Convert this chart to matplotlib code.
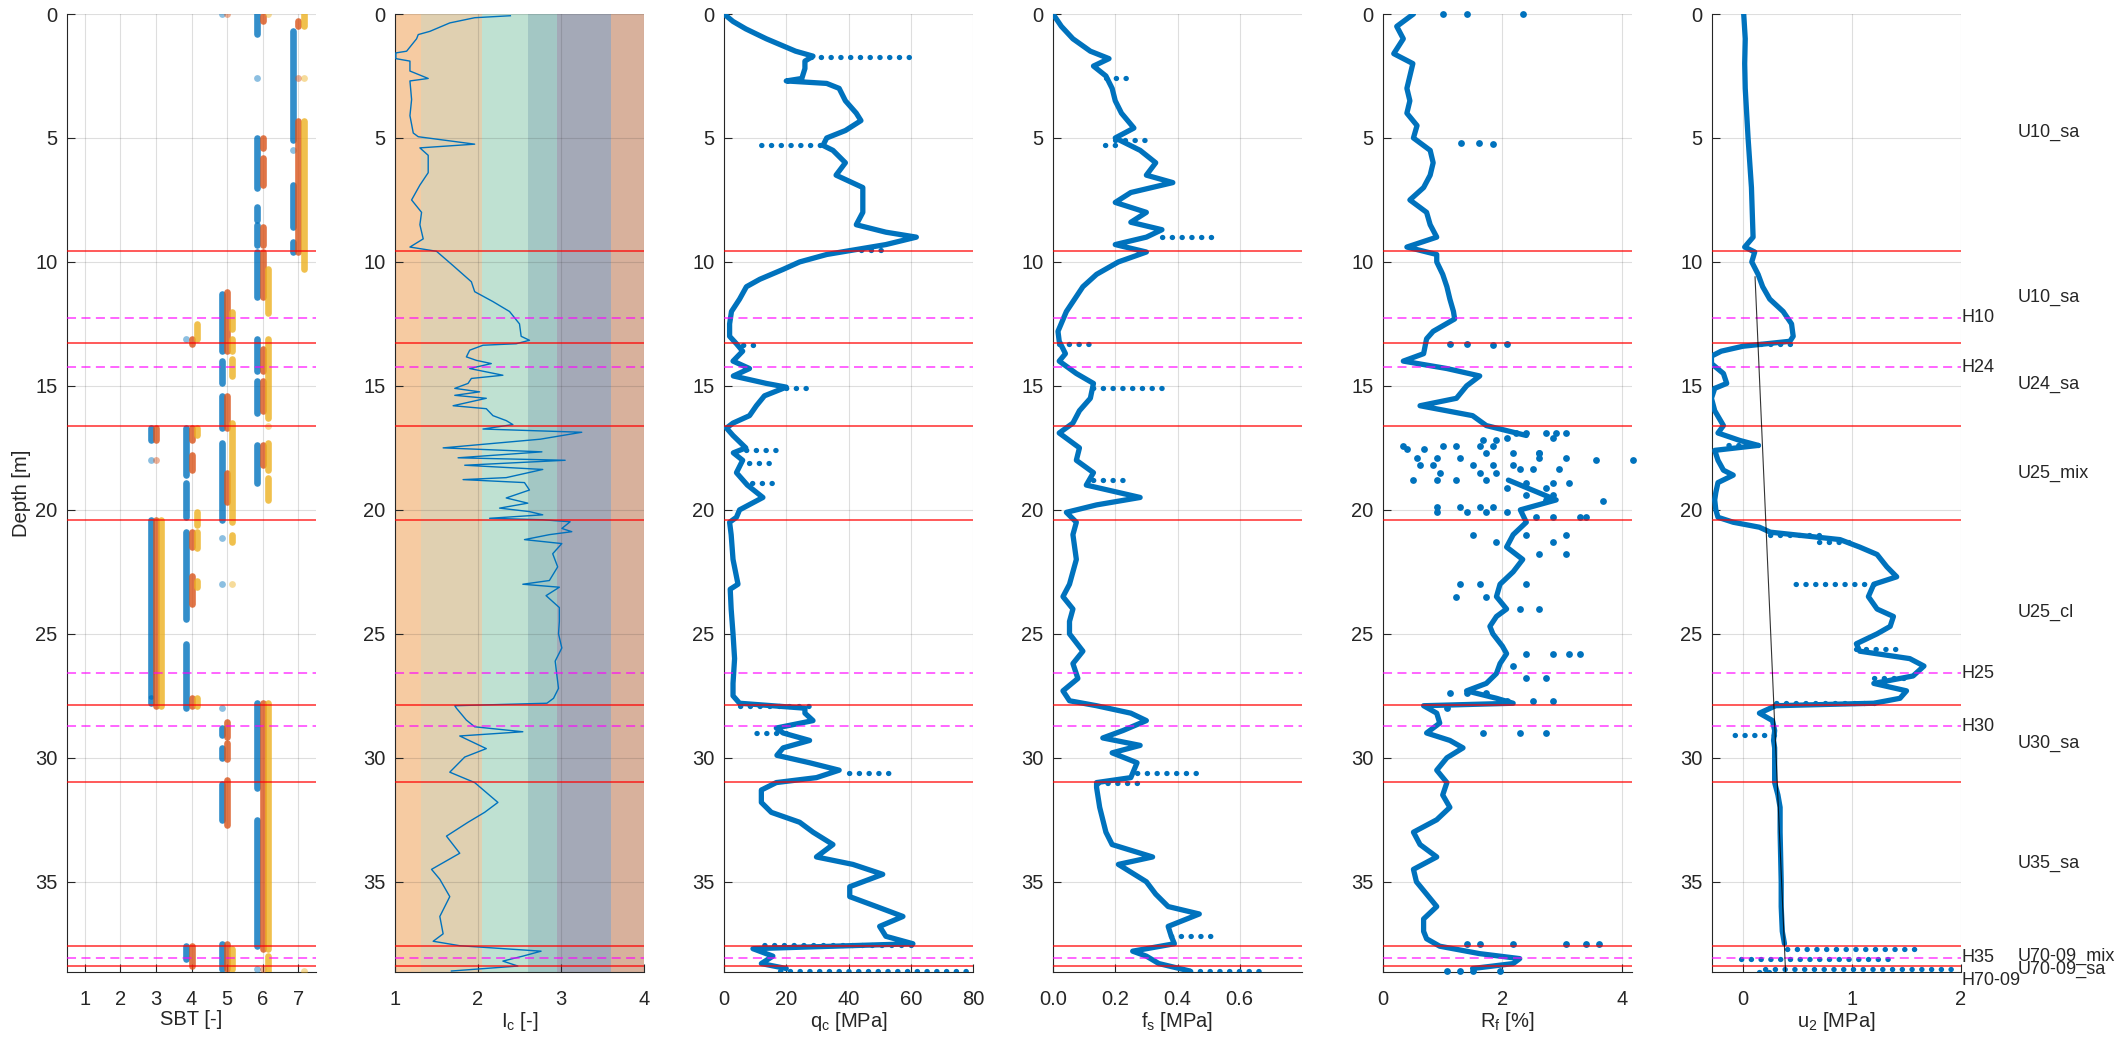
import numpy as np
import matplotlib.pyplot as plt

plt.rcParams['font.family'] = ['Liberation Sans', 'DejaVu Sans']
plt.rcParams['mathtext.default'] = 'regular'

# ---- layering (depth in m) ----
unit_bounds = [0, 9.57, 13.27, 16.62, 20.4, 27.87, 30.97, 37.59, 38.4, 38.7]
unit_names = ['U10_sa', 'U10_sa', 'U24_sa', 'U25_mix', 'U25_cl', 'U30_sa',
              'U35_sa', 'U70-09_mix', 'U70-09_sa']
horizon_names = ['H10', 'H24', 'H25', 'H30', 'H35', 'H70-09']
horizon_depths = [12.25, 14.24, 26.6, 28.72, 38.07, 39.0]

# ---- SBT (value, top, bottom) for three classification variants ----
sbt_blue = [(5, 0.0, 0.0), (6, 0.0, 0.8), (7, 0.7, 5.1), (6, 2.6, 2.6), (6, 5.0, 7.0),
            (7, 5.5, 5.5), (7, 6.9, 8.6), (6, 7.8, 8.3), (6, 8.5, 9.3), (7, 9.2, 9.6),
            (6, 9.6, 11.4), (5, 11.3, 13.6), (4, 13.1, 13.1), (6, 13.1, 14.4), (6, 14.8, 16.1),
            (5, 14.0, 14.9), (5, 15.4, 16.7), (5, 17.3, 20.4), (4, 16.7, 18.6), (4, 18.9, 20.3),
            (3, 16.7, 17.2), (3, 18.0, 18.0), (6, 17.4, 18.9), (3, 20.4, 27.5), (4, 20.9, 24.4),
            (4, 25.4, 28.0), (5, 21.15, 21.15), (5, 23.0, 23.0), (5, 28.0, 28.0), (3, 27.6, 27.8),
            (6, 27.8, 31.2), (6, 32.5, 37.6), (6, 38.5, 38.5), (5, 28.8, 29.1), (5, 29.6, 30.0),
            (5, 31.05, 32.5), (5, 37.5, 38.5), (4, 37.6, 38.1)]
sbt_orange = [(5, 0.0, 0.0), (6, 0.1, 0.3), (7, 0.3, 0.5), (7, 2.6, 2.6), (7, 4.3, 9.6),
              (6, 5.0, 5.4), (6, 5.8, 6.9), (6, 8.6, 9.3), (6, 9.6, 11.4), (5, 11.2, 13.6),
              (4, 13.1, 13.3), (6, 13.5, 14.4), (6, 14.8, 16.0), (5, 15.4, 16.7), (5, 18.5, 19.7),
              (3, 16.7, 17.2), (3, 18.0, 18.0), (4, 16.7, 17.2), (4, 17.8, 18.4), (6, 17.4, 18.2),
              (3, 20.4, 27.9), (4, 20.9, 21.5), (4, 22.65, 23.8), (4, 27.6, 27.9), (6, 27.8, 37.7),
              (5, 28.55, 29.15), (5, 29.4, 30.05), (5, 30.9, 32.7), (5, 37.5, 38.5), (4, 37.6, 38.4),
              (6, 38.5, 38.5)]
sbt_yellow = [(6, 0.0, 0.0), (7, 0.0, 0.5), (7, 2.6, 2.6), (7, 4.3, 10.3), (6, 10.3, 12.05),
              (5, 12.0, 12.7), (5, 13.1, 13.6), (4, 12.5, 13.1), (6, 13.1, 16.3), (6, 16.6, 16.6),
              (5, 13.9, 14.6), (5, 16.5, 20.5), (6, 17.3, 18.4), (6, 18.7, 19.6), (4, 16.7, 17.0),
              (4, 20.1, 20.6), (4, 20.9, 21.55), (4, 22.85, 23.1), (5, 21.0, 21.3), (5, 23.0, 23.0),
              (3, 20.4, 27.9), (4, 27.6, 27.9), (6, 27.8, 37.7), (6, 38.0, 38.6), (5, 37.7, 38.5),
              (7, 38.6, 38.6)]

# ---- Ic profile ----
ic_depth = [0.07, 0.15, 0.36, 0.7, 0.83, 1.0, 1.5, 1.57, 1.8, 1.9, 2.3, 2.6, 2.7, 3.45, 4.1, 4.8,
            4.95, 5.25, 5.4, 5.7, 6.4, 6.9, 7.5, 8.0, 8.5, 9.07, 9.4, 9.57, 10.15, 10.8, 11.2, 11.6,
            12.0, 12.5, 13.0, 13.16, 13.3, 13.36, 13.56, 13.83, 13.97, 14.1, 14.3, 14.57, 14.7,
            14.9, 15.1, 15.24, 15.38, 15.5, 15.8, 15.92, 16.2, 16.4, 16.56, 16.74, 16.87, 17.15,
            17.5, 17.66, 17.9, 18.0, 18.2, 18.37, 18.7, 18.78, 18.9, 19.2, 19.52, 19.73, 19.93,
            20.07, 20.2, 20.34, 20.4, 20.48, 20.75, 20.88, 21.0, 21.2, 21.36, 21.77, 22.3, 22.85,
            23.0, 23.12, 23.46, 23.94, 24.5, 25.0, 25.57, 26.1, 26.66, 27.2, 27.6, 27.8, 27.9,
            28.0, 28.48, 28.75, 28.95, 29.12, 29.63, 29.97, 30.58, 31.0, 31.8, 32.2, 32.6, 33.16,
            33.85, 34.5, 34.9, 35.6, 36.4, 37.1, 37.4, 37.58, 37.8, 38.0, 38.2, 38.4, 38.6]
ic_val = [2.39, 1.96, 1.66, 1.42, 1.28, 1.26, 1.14, 1.01, 1.01, 1.18, 1.18, 1.40, 1.18, 1.20, 1.18,
          1.22, 1.28, 1.96, 1.30, 1.40, 1.40, 1.30, 1.20, 1.32, 1.30, 1.34, 1.18, 1.50, 1.70, 1.92,
          1.96, 2.18, 2.38, 2.50, 2.52, 2.62, 2.46, 2.06, 1.90, 1.86, 1.98, 2.16, 1.90, 2.30, 1.92,
          1.88, 1.72, 2.02, 1.72, 2.10, 1.70, 2.10, 2.18, 2.34, 2.42, 2.06, 3.25, 2.75, 1.58, 2.77,
          1.76, 3.05, 1.84, 2.78, 2.34, 1.82, 2.56, 2.62, 2.34, 2.60, 2.26, 2.62, 2.78, 2.14, 2.78,
          3.11, 3.01, 3.13, 2.86, 2.56, 3.01, 2.90, 2.96, 2.86, 2.54, 2.98, 2.82, 2.98, 2.98, 2.97,
          3.01, 2.93, 2.95, 2.97, 2.91, 2.83, 1.72, 1.74, 1.86, 1.96, 2.54, 1.78, 2.10, 1.84, 1.66,
          1.96, 2.24, 2.08, 1.88, 1.62, 1.78, 1.44, 1.54, 1.66, 1.54, 1.58, 1.46, 1.78, 2.76, 2.54,
          2.30, 2.48, 1.68]
ic_zone_bounds = [1.0, 1.31, 2.05, 2.60, 2.95, 3.60, 4.0]
ic_zone_colors = ['#F6CBA2', '#E0D0B1', '#BFE1D2', '#A3C7C4', '#A4A9B7', '#D8B19C']

# ---- qc profile [MPa] ----
qc_depth = [0, 0.3, 0.6, 1.0, 1.5, 1.7, 1.9, 2.2, 2.6, 2.7, 2.8, 3.0, 3.5, 4.0, 4.3, 4.7, 5.0,
            5.3, 5.5, 6.0, 6.5, 7.0, 8.0, 8.5, 8.8, 9.0, 9.3, 9.5, 9.7, 10.0, 10.3, 10.7, 11.0,
            11.5, 12.0, 12.5, 13.0, 13.3, 13.6, 14.0, 14.3, 14.6, 14.9, 15.05, 15.4, 15.8, 16.2,
            16.5, 16.7, 17.0, 17.5, 17.7, 18.0, 18.5, 19.0, 19.5, 20.0, 20.3, 20.5, 21.0, 22.0,
            23.0, 23.2, 24.0, 25.0, 26.0, 27.0, 27.5, 27.8, 28.0, 28.2, 28.5, 28.8, 29.0, 29.3,
            29.6, 29.9, 30.2, 30.5, 30.8, 31.0, 31.3, 31.8, 32.2, 32.6, 33.0, 33.5, 34.0, 34.3,
            34.7, 35.2, 35.6, 36.0, 36.4, 36.8, 37.2, 37.5, 37.7, 38.0, 38.3, 38.5]
qc_val = [0, 2.9, 7.0, 13.6, 23.0, 28.6, 26.0, 26.0, 25.0, 20.0, 33.0, 37.0, 39.0, 42.5, 44.0,
          39.0, 33.0, 31.8, 35.0, 39.0, 36.0, 44.6, 44.6, 42.5, 52.0, 61.8, 52.0, 42.5, 33.0, 24.3,
          19.0, 11.5, 7.2, 5.0, 2.4, 1.8, 1.8, 4.0, 6.0, 2.9, 8.2, 3.0, 13.6, 20.0, 13.0, 10.4,
          8.2, 2.9, 0.8, 2.9, 7.0, 3.0, 6.0, 4.0, 7.5, 12.5, 5.0, 4.0, 1.8, 2.3, 2.9, 4.5, 2.0,
          2.3, 2.9, 3.4, 2.9, 2.9, 5.0, 26.0, 26.0, 28.6, 16.8, 19.0, 27.5, 19.0, 17.0, 27.5,
          37.0, 29.7, 16.8, 12.0, 12.0, 15.2, 24.3, 28.6, 35.0, 29.7, 41.4, 51.0, 40.4, 40.4, 49.0,
          57.5, 50.0, 52.0, 60.7, 9.3, 15.7, 12.0, 20.0]
qc_spk_depth = [1.75, 5.3, 9.5, 13.35, 15.1, 17.6, 18.1, 18.9, 27.9, 29.0, 30.6, 37.55, 38.6]
qc_spk_from = [28, 31, 44, 6, 20, 7, 8, 9, 5, 20, 40, 60, 18]
qc_spk_to = [60, 9, 53, 11, 28, 19, 17, 17, 29, 10, 53, 10, 80]

# ---- fs profile [MPa] ----
fs_depth = [0, 0.5, 1.0, 1.5, 1.8, 2.1, 2.5, 3.0, 3.5, 4.0, 4.6, 5.0, 5.5, 6.0, 6.5, 6.8, 7.2,
            7.6, 8.0, 8.4, 8.7, 9.0, 9.3, 9.6, 10.0, 10.5, 11.0, 12.0, 12.8, 13.2, 13.7, 14.0,
            14.5, 14.9, 15.5, 16.0, 16.5, 16.9, 17.5, 18.0, 18.5, 19.0, 19.5, 19.8, 20.1, 20.5,
            21.0, 22.0, 23.0, 23.5, 24.0, 24.5, 25.0, 25.7, 26.2, 26.8, 27.3, 27.7, 27.9, 28.2,
            28.5, 28.9, 29.2, 29.5, 29.8, 30.2, 30.8, 31.0, 31.2, 32.0, 32.5, 33.0, 33.5, 34.0,
            34.3, 35.0, 35.5, 36.0, 36.3, 36.8, 37.2, 37.5, 37.8, 38.0, 38.3, 38.6]
fs_val = [0, 0.027, 0.064, 0.12, 0.18, 0.13, 0.17, 0.19, 0.20, 0.22, 0.26, 0.20, 0.28, 0.33,
          0.30, 0.385, 0.25, 0.20, 0.30, 0.25, 0.35, 0.30, 0.20, 0.30, 0.21, 0.14, 0.096, 0.043,
          0.016, 0.02, 0.04, 0.02, 0.075, 0.13, 0.12, 0.085, 0.064, 0.02, 0.085, 0.075, 0.13,
          0.107, 0.28, 0.14, 0.043, 0.075, 0.064, 0.075, 0.053, 0.032, 0.064, 0.053, 0.053,
          0.096, 0.064, 0.08, 0.032, 0.053, 0.14, 0.25, 0.30, 0.225, 0.16, 0.28, 0.19, 0.27,
          0.25, 0.14, 0.14, 0.15, 0.16, 0.17, 0.19, 0.32, 0.21, 0.30, 0.33, 0.37, 0.47, 0.37,
          0.38, 0.39, 0.256, 0.30, 0.34, 0.44]
fs_spk_depth = [2.6, 5.1, 5.3, 9.0, 13.3, 15.1, 18.8, 30.6, 31.0, 37.2, 38.6]
fs_spk_from = [0.17, 0.20, 0.20, 0.35, 0.02, 0.13, 0.13, 0.27, 0.27, 0.38, 0.44]
fs_spk_to = [0.25, 0.30, 0.14, 0.51, 0.12, 0.35, 0.24, 0.46, 0.14, 0.53, 0.68]

# ---- Rf profile [%] ----
rf_depth = [0, 0.5, 1.0, 1.6, 2.0, 2.5, 3.0, 3.5, 4.0, 4.5, 5.0, 5.5, 6.0, 6.5, 7.0, 7.5, 8.0,
            8.5, 9.0, 9.4, 9.7, 10.0, 10.5, 11.0, 11.5, 12.0, 12.3, 12.8, 13.1, 13.7, 14.0, 14.3,
            14.6, 15.0, 15.5, 15.8, 16.2, 16.6, 17.0, np.nan, 18.8, 19.2, 19.6, 20.0, 20.5, 21.0,
            21.5, 22.0, 22.5, 23.0, 23.5, 24.0, 24.3, 24.7, 25.0, 25.5, 25.8, 26.2, 26.6, 27.0,
            27.3, 27.6, 27.8, 27.9, 28.2, 28.6, 29.0, 29.3, 29.6, 30.0, 30.5, 31.0, 31.5, 32.0,
            32.5, 33.0, 33.5, 34.0, 34.5, 35.0, 35.5, 36.0, 36.5, 37.0, 37.3, 37.6, 37.9, 38.1,
            38.3, 38.5]
rf_val = [0.51, 0.23, 0.34, 0.18, 0.5, 0.45, 0.4, 0.45, 0.4, 0.57, 0.51, 0.79, 0.84, 0.79, 0.68,
          0.45, 0.73, 0.79, 0.9, 0.4, 0.9, 0.9, 1.0, 1.07, 1.12, 1.18, 1.2, 0.84, 0.73, 0.68, 0.34,
          1.07, 1.62, 1.4, 1.23, 0.62, 1.5, 1.73, 2.4, np.nan, 2.1, 2.5, 2.9, 2.3, 2.4, 2.18, 2.07,
          2.34, 2.18, 1.96, 1.9, 2.07, 1.9, 1.79, 1.84, 2.0, 2.07, 1.96, 1.9, 1.73, 1.4, 1.9, 2.18,
          0.68, 0.9, 0.95, 0.73, 1.12, 1.34, 1.07, 0.9, 1.07, 1.0, 1.12, 0.9, 0.51, 0.62, 0.9,
          0.51, 0.56, 0.73, 0.9, 0.68, 0.68, 0.73, 0.95, 1.62, 2.29, 2.18, 1.5]
rf_pts_depth = [0.0, 0.0, 0.0, 5.2, 5.2, 5.25, 13.3, 13.3, 13.35, 13.3,
                16.9, 16.9, 16.9, 16.9, 16.9, 17.1, 17.1, 17.2, 17.2, 17.44, 17.44, 17.44, 17.44,
                17.44, 17.55, 17.55, 17.7, 17.7, 17.7, 17.7, 17.9, 17.9, 17.9, 17.9, 17.9, 18.0,
                18.0, 18.2, 18.2, 18.2, 18.2, 18.2, 18.36, 18.36, 18.36, 18.5, 18.5, 18.5, 18.8,
                18.8, 18.8, 18.8, 18.9, 18.9, 18.9, 19.1, 19.1, 19.4, 19.4, 19.6, 19.65, 19.9,
                19.9, 19.9, 19.9, 20.1, 20.1, 20.1, 20.1, 20.3, 20.3, 20.3, 20.3, 21.0, 21.0, 21.0,
                21.3, 21.3, 21.8, 21.8, 23.0, 23.0, 23.0, 23.5, 23.5, 24.0, 24.0, 25.8, 25.8, 25.8,
                25.8, 26.3, 26.8, 26.8, 27.4, 27.4, 27.4, 27.7, 27.7, 27.7, 28.0, 29.0, 29.0, 29.0,
                37.5, 37.5, 37.5, 37.5, 37.5, 37.5, 38.6, 38.6, 38.6, 38.6]
rf_pts_val = [1.01, 1.40, 2.34, 1.3, 1.6, 1.84, 1.12, 1.4, 1.84, 2.07,
              2.23, 2.4, 2.73, 2.9, 3.07, 2.07, 2.84, 1.68, 1.9, 0.34, 1.01, 1.23, 1.62, 1.84,
              0.4, 0.68, 1.73, 2.18, 2.62, 2.62, 0.57, 0.9, 1.29, 2.62, 3.07, 3.57, 4.18, 0.62,
              0.84, 1.51, 1.84, 2.18, 2.29, 2.51, 2.95, 0.95, 1.62, 1.9, 0.51, 0.9, 1.23, 1.73,
              2.4, 2.84, 3.12, 2.07, 2.73, 2.4, 2.84, 2.73, 3.68, 0.9, 1.29, 1.62, 1.84, 0.9,
              1.4, 1.73, 2.07, 2.57, 2.84, 3.3, 3.4, 1.51, 2.4, 3.07, 1.9, 2.84, 2.62, 3.07, 1.29,
              1.62, 2.4, 1.23, 1.73, 2.29, 2.62, 2.4, 2.84, 3.12, 3.3, 2.18, 2.4, 2.73, 1.12,
              1.4, 1.73, 2.07, 2.51, 2.84, 1.07, 1.68, 2.29, 2.73, 1.4, 1.62, 2.18, 3.07, 3.4,
              3.62, 1.07, 1.29, 1.51, 1.96]

# ---- u2 profile [MPa] ----
u2_depth = [0, 1, 2, 3, 5, 7, 9, 9.4, 9.6, 10.0, 10.5, 11.0, 11.5, 12.0, 12.5, 13.0, 13.2, 13.4,
            13.6, 13.8, 14.1, 14.5, 14.9, 15.1, 15.5, 16.0, 16.6, 16.9, 17.2, 17.4, 17.6, 18.0,
            18.4, 18.6, 18.9, 19.3, 19.6, 20.0, 20.3, 20.5, 20.7, 20.9, 21.2, 21.5, 21.8, 22.3,
            22.7, 23.0, 23.5, 24.0, 24.3, 24.7, 25.0, 25.4, 25.7, 26.0, 26.3, 26.7, 27.0, 27.3,
            27.6, 27.8, 27.9, 28.2, 28.5, 28.9, 29.3, 29.6, 30.0, 31.0, 31.5, 32.0, 33.0, 34.0,
            35.0, 36.0, 37.0, 37.5]
u2_val = [0.006, 0.02, 0.015, 0.02, 0.046, 0.077, 0.092, 0.015, 0.107, 0.08, 0.138, 0.18, 0.245,
          0.368, 0.445, 0.46, 0.43, 0.0, -0.2, -0.29, -0.29, -0.18, -0.15, -0.26, -0.29, -0.26,
          -0.18, -0.23, -0.03, 0.14, -0.26, -0.23, -0.18, -0.09, -0.23, -0.25, -0.26, -0.25,
          -0.23, -0.09, 0.15, 0.25, 0.89, 1.07, 1.23, 1.32, 1.41, 1.2, 1.15, 1.23, 1.38, 1.35,
          1.23, 1.04, 1.07, 1.53, 1.66, 1.56, 1.2, 1.5, 1.44, 1.2, 0.3, 0.15, 0.27, 0.29, 0.28,
          0.29, 0.29, 0.29, 0.32, 0.34, 0.34, 0.345, 0.35, 0.35, 0.36, 0.38]
u2_spk_depth = [13.3, 17.4, 21.0, 21.3, 23.0, 25.6, 26.8, 27.8, 29.1, 37.7, 38.1, 38.5, 38.62]
u2_spk_from = [0.43, 0.14, 0.25, 0.7, 1.2, 1.04, 1.2, 1.2, 0.28, 0.4, -0.02, 0.2, 0.15]
u2_spk_to = [0.12, -0.2, 0.7, 1.05, 0.43, 1.4, 1.56, 0.3, -0.12, 1.6, 1.4, 1.95, 0.3]
u0_depth = [10.6, 38.64]
u0_val = [0.11, 0.39]

# ---- styling ----
c_blue = '#0072BD'
c_orange = '#D95319'
c_yellow = '#EDB120'
c_text = '#262626'
y_max = 38.64
fs_tick = 14.5

fig = plt.figure(figsize=(21.28, 10.5), dpi=100)
W, H = 2128, 1050
lefts = [67, 395, 724, 1053, 1383, 1712]
axes = [fig.add_axes([l / W, 1 - 972 / H, 249 / W, (972 - 14) / H]) for l in lefts]


def setup(ax, xlim, xticks, xlabel):
    ax.set_xlim(xlim)
    ax.set_ylim(y_max, 0)
    ax.set_xticks(xticks)
    ax.set_yticks(range(0, 40, 5))
    ax.grid(True, color=c_text, alpha=0.15, lw=0.8)
    for s in ['top', 'right']:
        ax.spines[s].set_visible(False)
    for s in ['left', 'bottom']:
        ax.spines[s].set_color(c_text)
        ax.spines[s].set_linewidth(0.8)
    ax.tick_params(direction='in', length=6, width=0.8, colors=c_text, labelsize=fs_tick)
    ax.tick_params(axis='x', pad=13)
    ax.tick_params(axis='y', pad=7)
    ax.set_xlabel(xlabel, fontsize=fs_tick, color=c_text, labelpad=1)
    for d in unit_bounds[1:-1]:
        ax.axhline(d, color='red', alpha=0.7, lw=1.3, zorder=4)
    for d in horizon_depths:
        ax.axhline(d, color='#FF00FF', alpha=0.65, lw=1.3, dashes=(5, 3), zorder=4)


def trace(ax, depth, val, spk_d, spk_a, spk_b):
    ax.plot(val, depth, color=c_blue, lw=3.8, solid_capstyle='round',
            solid_joinstyle='round', zorder=3)
    for d, a, b in zip(spk_d, spk_a, spk_b):
        ax.plot([a, b], [d, d], color=c_blue, lw=3.8, linestyle=(0, (0.05, 1.8)),
                dash_capstyle='round', zorder=3)


# SBT panel
ax = axes[0]
for segs, col, off in [(sbt_blue, c_blue, -0.15), (sbt_orange, c_orange, 0.0),
                       (sbt_yellow, c_yellow, 0.15)]:
    for v, top, bot in segs:
        if bot > top:
            ax.vlines(v + off, top, bot, color=col, lw=4.8, alpha=0.8, capstyle='round', zorder=3)
        else:
            ax.scatter(v + off, top, s=24, color=col, alpha=0.45, lw=0, zorder=3)
setup(ax, (0.5, 7.5), range(1, 8), 'SBT [-]')
ax.set_ylabel('Depth [m]', fontsize=fs_tick, color=c_text, labelpad=3)

# Ic panel
ax = axes[1]
for i, col in enumerate(ic_zone_colors):
    ax.axvspan(ic_zone_bounds[i], ic_zone_bounds[i + 1], color=col, lw=0, zorder=0)
ax.plot(ic_val, ic_depth, color=c_blue, lw=1.0, zorder=3)
setup(ax, (1, 4), [1, 2, 3, 4], 'I$_c$ [-]')
ax.set_axisbelow(False)

# qc, fs, Rf, u2
ax = axes[2]
trace(ax, qc_depth, qc_val, qc_spk_depth, qc_spk_from, qc_spk_to)
setup(ax, (0, 80), [0, 20, 40, 60, 80], 'q$_c$ [MPa]')

ax = axes[3]
trace(ax, fs_depth, fs_val, fs_spk_depth, fs_spk_from, fs_spk_to)
setup(ax, (0, 0.8), [0, 0.2, 0.4, 0.6], 'f$_s$ [MPa]')

ax = axes[4]
trace(ax, rf_depth, rf_val, [], [], [])
ax.scatter(rf_pts_val, rf_pts_depth, s=24, color=c_blue, lw=0, zorder=3, clip_on=False)
setup(ax, (0, 4.17), [0, 2, 4], 'R$_f$ [%]')

ax = axes[5]
trace(ax, u2_depth, u2_val, u2_spk_depth, u2_spk_from, u2_spk_to)
ax.plot(u0_val, u0_depth, color='k', lw=0.8, alpha=0.8, zorder=5)
setup(ax, (-0.285, 2), [0, 1, 2], 'u$_2$ [MPa]')

# layer and horizon labels on the right
tr = ax.get_yaxis_transform()
for i, name in enumerate(unit_names):
    mid = (unit_bounds[i] + unit_bounds[i + 1]) / 2
    ax.text(1.228, mid, name, transform=tr, fontsize=13, color=c_text, va='center', ha='left')
for name, d in zip(horizon_names, horizon_depths):
    ax.text(1.003, d, name, transform=tr, fontsize=13, color=c_text, va='center', ha='left')

fig.savefig('out.png', dpi=100)
